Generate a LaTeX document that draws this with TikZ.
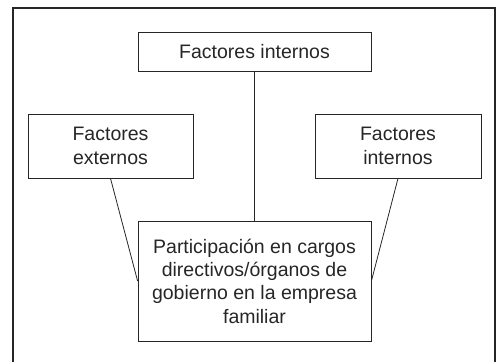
\documentclass[tikz,border=0pt]{standalone}
\usepackage{fontspec}
\setmainfont{Liberation Sans}
\begin{document}
\begin{tikzpicture}[x=1pt,y=-1pt,
  box/.style={draw=black!85, line width=0.8pt, rectangle, inner sep=0pt, align=center,
    font=\fontsize{19.5}{23.3}\selectfont, text=black!85},
  link/.style={draw=black!85, line width=0.8pt}]
\useasboundingbox (0,0) rectangle (497,361);
\draw[line width=2pt, black!85] (12.5,362) -- (12.5,8) -- (495,8) -- (495,362);
\node[box, minimum width=233pt, minimum height=39pt] (top) at (254.5,51.5) {Factores internos};
\node[box, minimum width=165pt, minimum height=64pt] (ext) at (110.5,146) {Factores\\externos};
\node[box, minimum width=166pt, minimum height=64pt] (int) at (398,146) {Factores\\internos};
\node[box, minimum width=233pt, minimum height=120pt] (part) at (254.5,281)
  {Participación en cargos\\directivos/órganos de\\gobierno en la empresa\\familiar};
\draw[link] (top.south) -- (part.north);
\draw[link] (ext.south) -- (part.west);
\draw[link] (int.south) -- (part.east);
\end{tikzpicture}
\end{document}
